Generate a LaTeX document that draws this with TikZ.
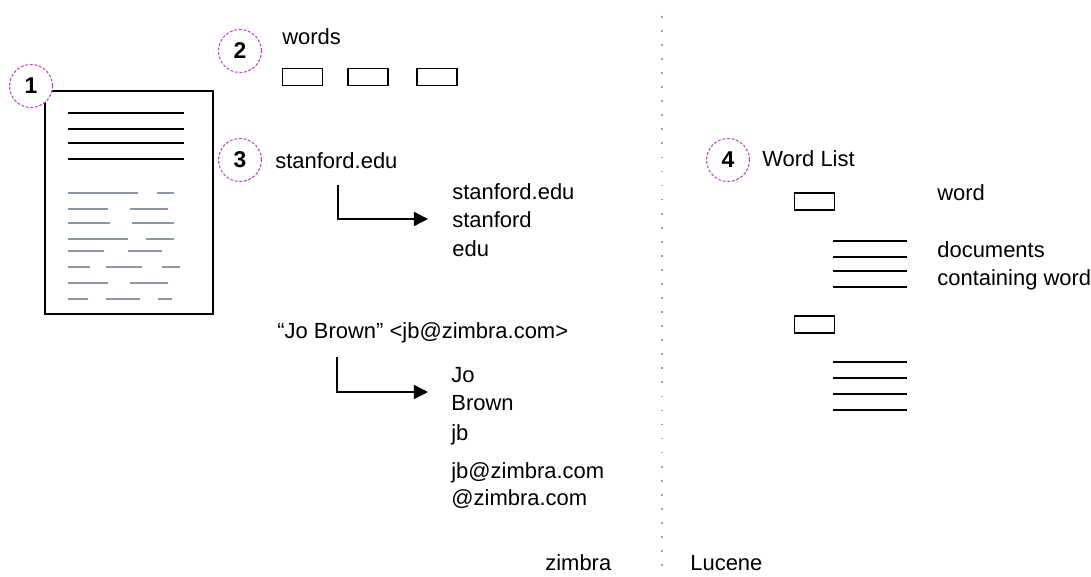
\documentclass[tikz,border=0pt]{standalone}
\usepackage{fontspec}
\setmainfont{Liberation Sans}
\usetikzlibrary{arrows.meta,calc,positioning}
\definecolor{badgeColor}{RGB}{195,60,210}
\definecolor{ruleColor}{RGB}{140,150,165}
\definecolor{dividerColor}{RGB}{160,160,160}
\tikzset{badge/.style={circle, draw=badgeColor, semithick, dash pattern=on 1.6pt off 1pt, minimum size=0.86cm, inner sep=0pt, font=\bfseries\fontsize{13}{15}\selectfont}}
\tikzset{token/.style={anchor=west, inner sep=0pt, font=\fontsize{12.5}{14}\selectfont}}
\tikzset{wordbox/.style={draw, thick, minimum width=0.8cm, minimum height=0.34cm, inner sep=0pt}}
\tikzset{splitArrow/.style={thick, -{Triangle[length=8pt,width=8pt]}}}

\begin{document}
\begin{tikzpicture}[x=0.02cm, y=-0.02cm]
\useasboundingbox (0,0) rectangle (1091,577);
% Document
    \node (Document) [draw, thick, minimum width=3.36cm, minimum height=4.46cm, inner sep=0pt] at (129,202.5) {};
    \foreach \y in {113,129,143,159}
        \draw [thick] (68,\y) -- (184,\y);
    \foreach \y/\segs in {193/{68/138,157/174}, 209/{68/108,130/168}, 223/{68/110,132/174}, 239/{68/128,146/174}, 251/{68/104,128/162}, 267/{68/90,106/142,162/180}, 283/{68/108,130/168}, 299/{68/88,106/140,158/172}}
        \foreach \a/\b in \segs
            \draw [ruleColor, thick] (\a,\y) -- (\b,\y);

    \node (BadgeDocument) [badge, fill=white] at (31,86) {1};

% Words
    \node (BadgeWords) [badge] at (240,51) {2};
    \node (WordsLabel) [token] at (282,37) {words};
    \node (WordBoxA) [wordbox] at (302.5,77) {};
    \node (WordBoxB) [wordbox] at (368,77) {};
    \node (WordBoxC) [wordbox] at (437,77) {};

% Tokenizing
    \node (BadgeTokens) [badge] at (240,160) {3};
    \node (StanfordSource) [token] at (275,161) {stanford.edu};
    \node (StanfordFull) [token] at (452,192) {stanford.edu};
    \node (StanfordName) [token] at (452,220) {stanford};
    \node (StanfordDomain) [token] at (452,249) {edu};
    \coordinate (StanfordTip) at (428,219);

    \node (JoSource) [token] at (277,333) {“Jo Brown” <jb@zimbra.com>};
    \node (JoFirst) [token] at (451,375) {Jo};
    \node (JoLast) [token] at (451,403) {Brown};
    \node (JoUser) [token] at (451,435) {jb};
    \node (JoAddress) [token] at (451,473) {jb@zimbra.com};
    \node (JoDomain) [token] at (451,499) {@zimbra.com};
    \coordinate (JoTip) at (428,392);

% Divider
    \coordinate (DividerTop) at (662,16);
    \coordinate (DividerBottom) at (662,572);
    \node (ZimbraLabel) [token] at (545,563) {zimbra};
    \node (LuceneLabel) [token] at (690,563) {Lucene};

% Word list
    \node (BadgeIndex) [badge] at (728,160) {4};
    \node (WordListLabel) [token] at (762,159) {Word List};
    \node (IndexWordA) [wordbox] at (814.5,201.5) {};
    \node (IndexWordB) [wordbox] at (814.5,324.5) {};
    \foreach \y in {241,257,271,287,362,378,394,410}
        \draw [thick] (833,\y) -- (907,\y);
    \node (WordLabel) [token] at (937,193) {word};
    \node (DocsLabel) [token] at (937,250) {documents};
    \node (ContainLabel) [token] at (937,280) {containing word};

% Connectors
    \draw [splitArrow] ($(StanfordSource.west)+(63,24)$) |- (StanfordTip);
    \draw [splitArrow] ($(JoSource.west)+(60,24)$) |- (JoTip);
    \draw [dividerColor, thick, dash pattern=on 1pt off 7pt] (DividerTop) -- (DividerBottom);

\end{tikzpicture}
\end{document}
